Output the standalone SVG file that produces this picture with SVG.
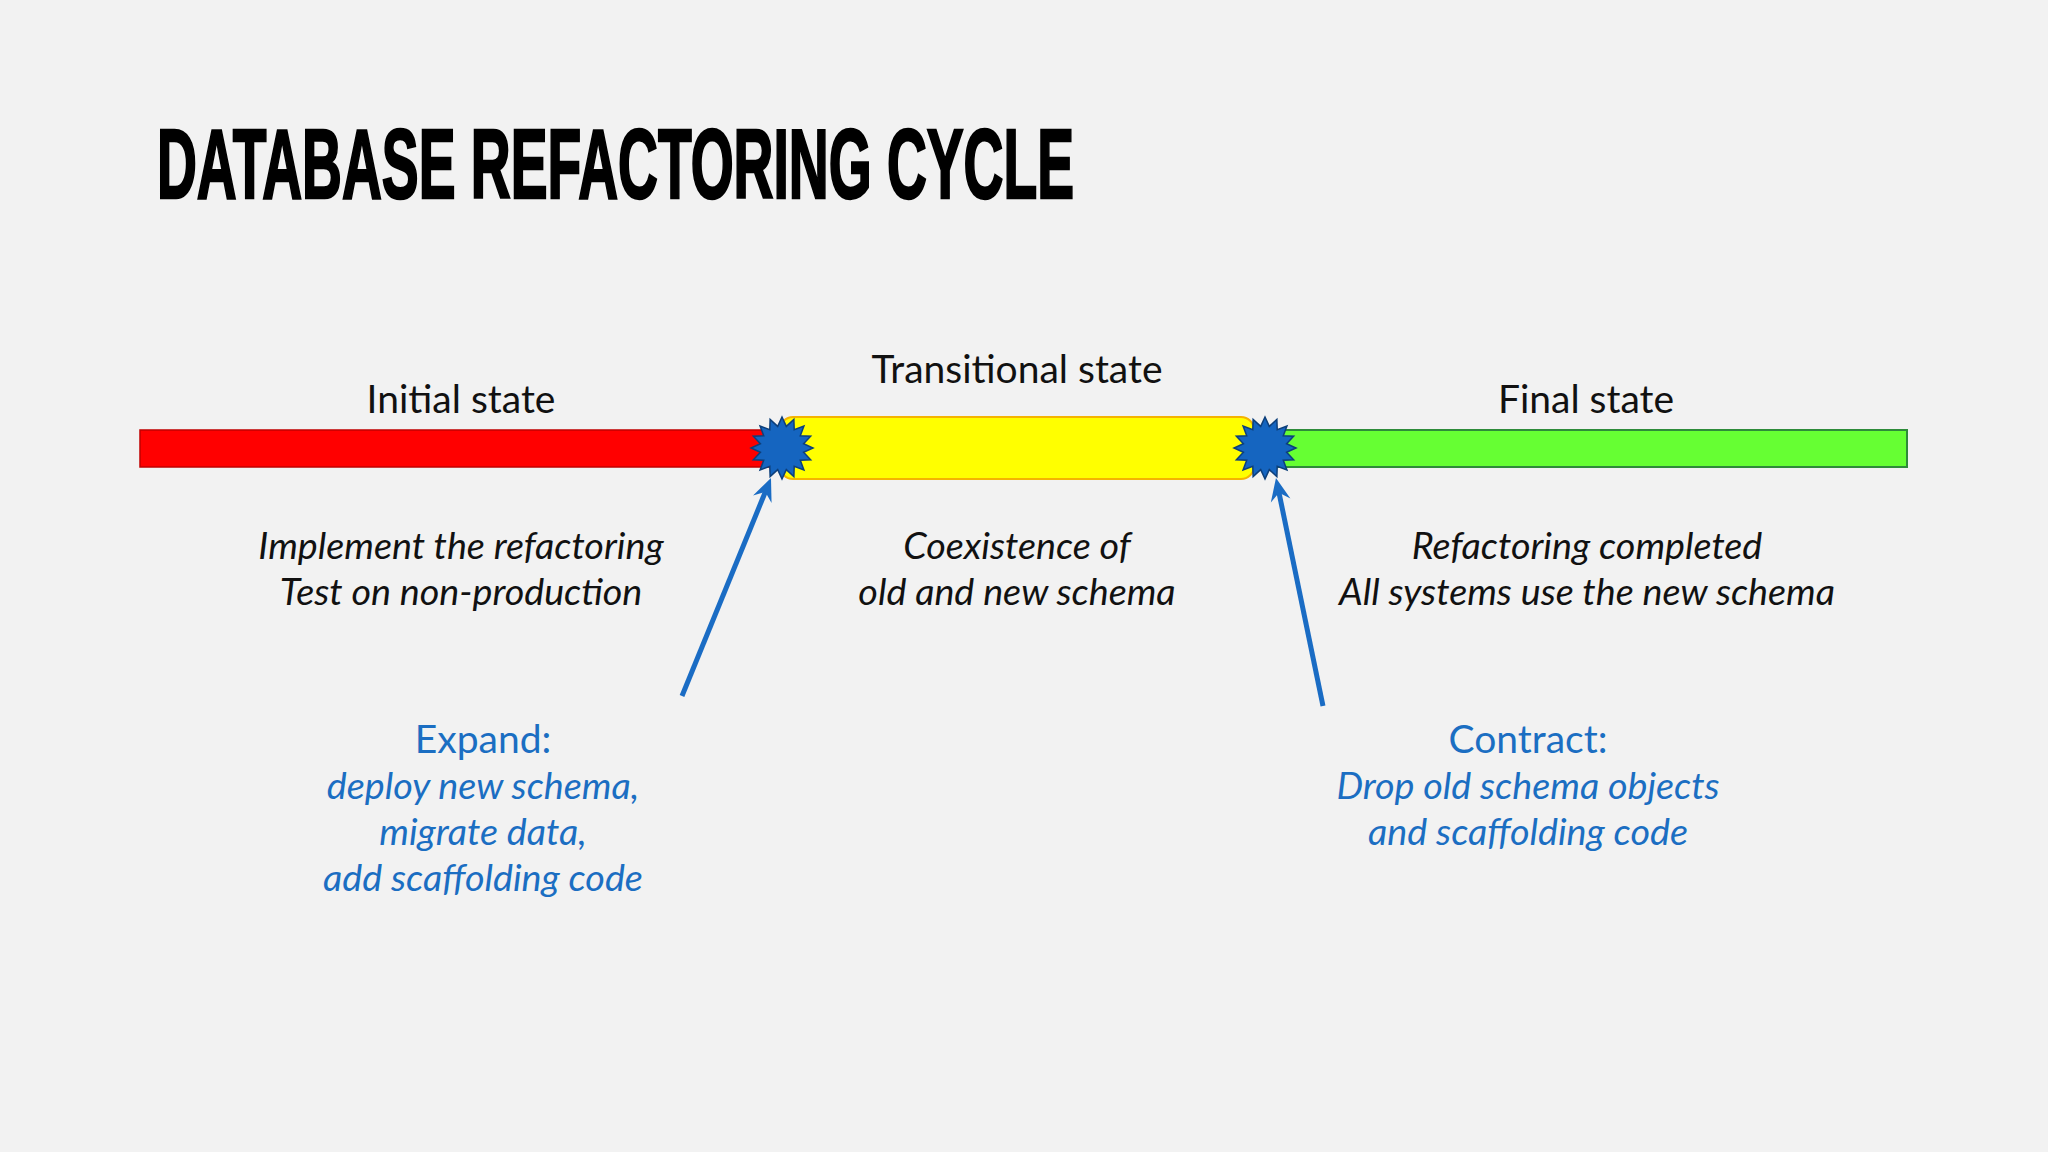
<svg xmlns="http://www.w3.org/2000/svg" width="2048" height="1152" viewBox="0 0 2048 1152">
<style>
.title{font-family:"Liberation Sans",Arial,sans-serif;font-weight:bold;font-size:98px;fill:#000;stroke:#000;stroke-width:2.5px}
.lbl{font-family:Lato,"Liberation Sans",sans-serif;font-size:39px;fill:#111;text-anchor:middle}
.it{font-family:Lato,"Liberation Sans",sans-serif;font-style:italic;font-size:37.7px;fill:#111;text-anchor:middle}
.blue{fill:#1b6ec2}
.star{fill:#1565c0;stroke:#0d3f7a;stroke-width:1.5}
.conn{stroke:#1a6cc4;stroke-width:5;fill:none;marker-end:url(#ah)}
</style>
<defs>
<marker id="ah" markerUnits="userSpaceOnUse" viewBox="-24 -11 26 22" refX="-14" refY="0" markerWidth="26" markerHeight="22" orient="auto">
<path d="M0,0 L-23,-10 L-15,0 L-23,10 Z" fill="#1a6cc4"/>
</marker>
<polygon id="burst" class="star" points="0,-31 4.29,-21.58 11.86,-28.64 12.22,-18.29 21.92,-21.92 18.29,-12.22 28.64,-11.86 21.58,-4.29 31,0 21.58,4.29 28.64,11.86 18.29,12.22 21.92,21.92 12.22,18.29 11.86,28.64 4.29,21.58 0,31 -4.29,21.58 -11.86,28.64 -12.22,18.29 -21.92,21.92 -18.29,12.22 -28.64,11.86 -21.58,4.29 -31,0 -21.58,-4.29 -28.64,-11.86 -18.29,-12.22 -21.92,-21.92 -12.22,-18.29 -11.86,-28.64 -4.29,-21.58"/>
</defs>
<rect width="2048" height="1152" fill="#f2f2f2"/>
<text class="title" x="157" y="198" textLength="917" lengthAdjust="spacingAndGlyphs">DATABASE REFACTORING CYCLE</text>

<g id="initial">
<rect x="140" y="430" width="640" height="37" fill="#ff0000" stroke="#c00000" stroke-width="1.5"/>
<text class="lbl" x="461" y="413">Initial state</text>
<text class="it" x="461" y="559">Implement the refactoring</text>
<text class="it" x="461" y="605">Test on non-production</text>
</g>
<g id="final">
<rect x="1266" y="430" width="641" height="37" fill="#66ff33" stroke="#2e8b3a" stroke-width="2"/>
<text class="lbl" x="1586" y="413">Final state</text>
<text class="it" x="1587" y="559">Refactoring completed</text>
<text class="it" x="1587" y="605">All systems use the new schema</text>
</g>
<g id="transitional">
<rect x="780" y="417" width="474" height="62" rx="13" fill="#ffff00" stroke="#f5b400" stroke-width="2"/>
<text class="lbl" x="1017" y="383">Transitional state</text>
<text class="it" x="1017" y="559">Coexistence of</text>
<text class="it" x="1017" y="605">old and new schema</text>
</g>
<g id="expand-point"><use href="#burst" x="782" y="448"/></g>
<g id="contract-point"><use href="#burst" x="1265" y="448"/></g>
<g id="expand">
<text class="lbl blue" x="483" y="753">Expand:</text>
<text class="it blue" x="483" y="799">deploy new schema,</text>
<text class="it blue" x="483" y="845">migrate data,</text>
<text class="it blue" x="483" y="891">add scaffolding code</text>
</g>
<g id="contract">
<text class="lbl blue" x="1528" y="753">Contract:</text>
<text class="it blue" x="1528" y="799">Drop old schema objects</text>
<text class="it blue" x="1528" y="845">and scaffolding code</text>
</g>
<g id="connectors">
<path class="conn" d="M682,696 L765.7,491"/>
<path class="conn" d="M1323,706 L1278.8,491.7"/>
</g>
</svg>
